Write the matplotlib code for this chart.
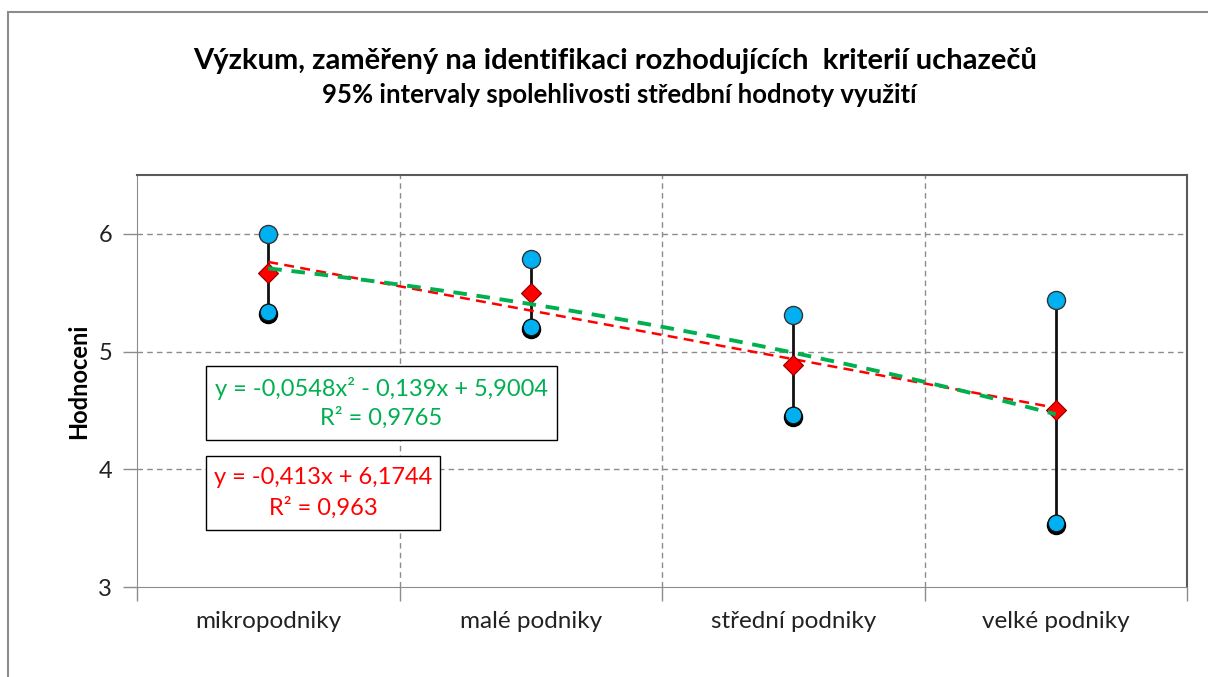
import numpy as np
import matplotlib.pyplot as plt
from matplotlib import transforms
from matplotlib.patches import Rectangle

# categories and 95% confidence intervals of the mean
categories = ['mikropodniky', 'malé podniky', 'střední podniky', 'velké podniky']
upper = [6.00, 5.79, 5.31, 5.44]
mean = [5.67, 5.50, 4.89, 4.50]
lower = [5.34, 5.21, 4.46, 3.54]

# trendline coefficients (highest power first)
poly_coef = [-0.0548, -0.139, 5.9004]
lin_coef = [-0.413, 6.1744]
poly_label = ['y = -0,0548x² - 0,139x + 5,9004', 'R² = 0,9765']
lin_label = ['y = -0,413x + 6,1744', 'R² = 0,963']

plt.rcParams['font.family'] = ['Lato', 'DejaVu Sans']

GREEN = '#00B050'
RED = '#FF0000'
BLUE = '#00B0F0'
W, H = 1208, 677

fig = plt.figure(figsize=(W / 100, H / 100), dpi=100)


def px(x0, y0):
    # pixel position (from the top-left) to figure fraction
    return x0 / W, 1 - y0 / H


# outer chart frame
fig.patches.append(Rectangle((8 / W, -0.1), 1.2, 1 - 12 / H + 0.1,
                             transform=fig.transFigure, fill=False,
                             edgecolor='#8c8c8c', lw=1.5))

ax = fig.add_axes([137 / W, 90 / H, 1050 / W, 412 / H])
x = np.arange(1, len(categories) + 1)

ax.set_xlim(0.5, 4.5)
ax.set_ylim(3, 6.5)
ax.set_yticks([3, 4, 5, 6])
ax.set_xticks(x)
ax.set_xticklabels(categories)
ax.set_xticks(np.arange(0.5, 4.6, 1), minor=True)
ax.tick_params(axis='x', which='major', length=0, pad=17, labelsize=17.5,
               labelcolor='#222222')
ax.tick_params(axis='x', which='minor', length=10, color='#8c8c8c', width=1)
ax.tick_params(axis='y', length=10, color='#8c8c8c', width=1, pad=8,
               labelsize=17, labelcolor='#222222')

for s in ['left', 'bottom']:
    ax.spines[s].set_color('#8c8c8c')
for s in ['top', 'right']:
    ax.spines[s].set_color('#5a5a5a')
    ax.spines[s].set_linewidth(1.5)

for yv in [4, 5, 6]:
    ax.axhline(yv, color='#8c8c8c', lw=1, ls=(0, (4, 3)), zorder=1)
for xv in [1.5, 2.5, 3.5]:
    ax.axvline(xv, color='#8c8c8c', lw=1, ls=(0, (4, 3)), zorder=1)

ax.set_ylabel('Hodnoceni', fontsize=17, fontweight='bold', labelpad=6)

# confidence interval whiskers
ax.vlines(x, lower, upper, color='#111111', lw=2, zorder=3)

# trendlines drawn from the stated equations
xt = np.linspace(1, 4, 100)
ax.plot(xt, np.polyval(lin_coef, xt), color=RED, lw=1.8,
        ls=(0, (4, 2.5)), zorder=4)
ax.plot(xt, np.polyval(poly_coef, xt), color=GREEN, lw=2.8,
        ls=(0, (3.5, 2.5)), zorder=5)

ax.plot(x, mean, ls='none', marker='D', ms=10, mfc=RED, mec='#8b0000',
        mew=0.8, zorder=4.5)

ax.plot(x, upper, ls='none', marker='o', ms=13, mfc=BLUE, mec='#333333',
        mew=1, zorder=6)
shadow = transforms.offset_copy(ax.transData, fig=fig, x=0, y=-2, units='dots')
ax.plot(x, lower, ls='none', marker='o', ms=13, mfc='black', mec='black',
        mew=1, transform=shadow, zorder=6)
ax.plot(x, lower, ls='none', marker='o', ms=12, mfc=BLUE, mec='#111111',
        mew=1, zorder=6.5)

# equation boxes
for (bx, by, bw, bh), lines, col in [((206, 366, 351, 74), poly_label, GREEN),
                                     ((206, 456, 234, 74), lin_label, RED)]:
    fig.patches.append(Rectangle(px(bx, by + bh), bw / W, bh / H,
                                 transform=fig.transFigure, fc='white',
                                 ec='black', lw=1, zorder=10))
    cx = bx + bw / 2
    fig.text(*px(cx, by + 22), lines[0], color=col, fontsize=17,
             ha='center', va='center', zorder=11)
    fig.text(*px(cx, by + 52), lines[1], color=col, fontsize=17,
             ha='center', va='center', zorder=11)

fig.text(*px(615, 60),
         'Výzkum, zaměřený na identifikaci rozhodujících  kriterií uchazečů',
         ha='center', va='center', fontsize=21, fontweight='bold')
fig.text(*px(619, 95),
         '95% intervaly spolehlivosti středbní hodnoty využití',
         ha='center', va='center', fontsize=18.5, fontweight='bold')

fig.savefig('out.png', dpi=100)
